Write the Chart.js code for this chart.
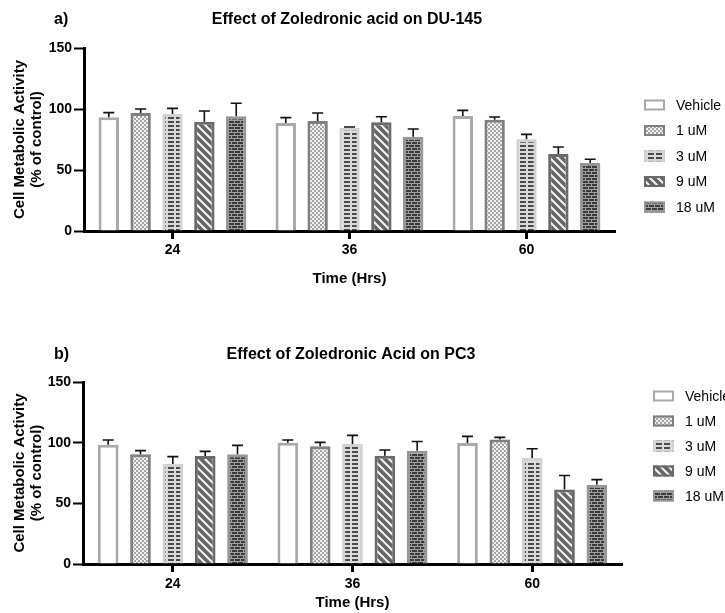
<!DOCTYPE html>
<html>
<head>
<meta charset="utf-8">
<script src="https://cdn.jsdelivr.net/npm/chart.js@4/dist/chart.umd.min.js"></script>
<style>
  html, body { margin: 0; padding: 0; background: #ffffff; }
  #wrap { position: relative; width: 725px; height: 613px; overflow: hidden; }
  #boxA { position: absolute; left: 0; top: 0; width: 725px; height: 300px; }
  #boxB { position: absolute; left: 0; top: 318px; width: 725px; height: 295px; }
</style>
</head>
<body>
<div id="wrap">
  <div id="boxA"><canvas id="chartA" width="725" height="300"></canvas></div>
  <div id="boxB"><canvas id="chartB" width="725" height="295"></canvas></div>
</div>
<script>
// ---------- DATA ----------
const categories = ['24', '36', '60'];
const seriesLabels = ['Vehicle', '1 uM', '3 uM', '9 uM', '18 uM'];
const yTicks = [0, 50, 100, 150];

// a) DU-145 : means (% of control)
const du145Vehicle = [93.2, 88.5, 94.3];
const du145Dose1 = [96.7, 90.2, 91.2];
const du145Dose3 = [95.9, 84.7, 75.2];
const du145Dose9 = [89.6, 89.1, 63.1];
const du145Dose18 = [94.0, 77.3, 55.7];
// a) DU-145 : upper error
const du145VehicleErr = [3.8, 4.4, 4.6];
const du145Dose1Err = [3.3, 6.5, 2.2];
const du145Dose3Err = [4.6, 0.5, 4.0];
const du145Dose9Err = [8.8, 4.6, 5.8];
const du145Dose18Err = [10.7, 6.3, 3.1];

// b) PC3 : means (% of control)
const pc3Vehicle = [98.3, 100.0, 99.8];
const pc3Dose1 = [90.4, 97.0, 102.7];
const pc3Dose3 = [82.4, 98.9, 87.4];
const pc3Dose9 = [89.0, 89.3, 61.5];
const pc3Dose18 = [90.4, 93.4, 65.4];
// b) PC3 : upper error
const pc3VehicleErr = [3.9, 2.2, 5.4];
const pc3Dose1Err = [3.0, 3.2, 1.7];
const pc3Dose3Err = [6.1, 7.1, 7.6];
const pc3Dose9Err = [3.8, 4.7, 11.5];
const pc3Dose18Err = [7.4, 7.6, 4.1];

const titleA = 'Effect of Zoledronic acid on DU-145';
const titleB = 'Effect of Zoledronic Acid on PC3';
const yTitle = ['Cell Metabolic Activity', '(% of control)'];
const xTitle = 'Time (Hrs)';

// ---------- STYLES ----------
const FONT = '"Liberation Sans", Arial, Helvetica, sans-serif';
Chart.defaults.font.family = FONT;
Chart.defaults.color = '#000';

function makePattern(w, h, draw) {
  const c = document.createElement('canvas');
  c.width = w; c.height = h;
  const g = c.getContext('2d');
  draw(g, w, h);
  return g.createPattern(c, 'repeat');
}
const patVehicle = '#ffffff';
const patDose1 = makePattern(4, 4, (g) => {
  g.fillStyle = '#f2f2f2'; g.fillRect(0, 0, 4, 4);
  g.fillStyle = '#a4a4a4'; g.fillRect(0, 0, 2, 2); g.fillRect(2, 2, 2, 2);
});
const patDose3 = makePattern(8, 4, (g) => {
  g.fillStyle = '#dadada'; g.fillRect(0, 0, 8, 4);
  g.fillStyle = '#4a4a4a'; g.fillRect(0, 1, 6, 2);
});
const patDose9 = makePattern(8, 8, (g) => {
  g.fillStyle = '#656565'; g.fillRect(0, 0, 8, 8);
  g.strokeStyle = '#f4f4f4'; g.lineWidth = 2;
  g.beginPath();
  g.moveTo(-2, -2); g.lineTo(10, 10);
  g.moveTo(-10, -2); g.lineTo(2, 10);
  g.moveTo(6, -2); g.lineTo(18, 10);
  g.stroke();
});
const patDose18 = makePattern(6, 6, (g) => {
  g.fillStyle = '#3a3a3a'; g.fillRect(0, 0, 6, 6);
  g.fillStyle = '#a0a0a0';
  g.fillRect(0, 0, 6, 1); g.fillRect(0, 3, 6, 1);
  g.fillRect(0, 0, 1, 3); g.fillRect(3, 3, 1, 3);
});
const fills = [patVehicle, patDose1, patDose3, patDose9, patDose18];
const borders = ['#a9a9a9', '#7f7f7f', '#d2d2d2', '#6a6a6a', '#979797'];

// ---------- PLUGINS ----------
const errorBars = {
  id: 'errorBars',
  afterDatasetsDraw(chart) {
    const ctx = chart.ctx;
    const ys = chart.scales.y;
    ctx.save();
    ctx.strokeStyle = '#111';
    ctx.lineWidth = 1.6;
    chart.data.datasets.forEach((ds, i) => {
      const meta = chart.getDatasetMeta(i);
      meta.data.forEach((el, j) => {
        const v = ds.data[j];
        const e = ds.errors[j];
        const yTop = ys.getPixelForValue(v);
        const yE = ys.getPixelForValue(v + e);
        ctx.beginPath();
        ctx.moveTo(el.x, yTop);
        ctx.lineTo(el.x, yE);
        ctx.moveTo(el.x - 5.5, yE);
        ctx.lineTo(el.x + 5.5, yE);
        ctx.stroke();
      });
    });
    ctx.restore();
  }
};

const headerAndLegend = {
  id: 'headerAndLegend',
  afterDraw(chart, args, o) {
    const ctx = chart.ctx;
    ctx.save();
    ctx.fillStyle = '#000';
    ctx.textBaseline = 'middle';
    ctx.font = 'bold 16px ' + FONT;
    ctx.textAlign = 'left';
    ctx.fillText(o.tag, o.tagX, o.titleY);
    ctx.textAlign = 'center';
    ctx.fillText(o.title, o.titleX, o.titleY);
    // legend
    ctx.font = '14px ' + FONT;
    ctx.textAlign = 'left';
    chart.data.datasets.forEach((ds, i) => {
      const cy = o.legY + i * o.legStep;
      const bx = o.legX, bw = 21, bh = 11;
      ctx.fillStyle = ds.backgroundColor;
      ctx.fillRect(bx, cy - bh / 2, bw, bh);
      ctx.strokeStyle = ds.borderColor;
      ctx.lineWidth = 2;
      ctx.strokeRect(bx + 1, cy - bh / 2 + 1, bw - 2, bh - 2);
      ctx.fillStyle = '#000';
      ctx.fillText(ds.label, o.legTextX, cy + 1);
    });
    ctx.restore();
  }
};

function buildDatasets(means, errs) {
  return seriesLabels.map((lab, i) => ({
    label: lab,
    data: means[i],
    errors: errs[i],
    backgroundColor: fills[i],
    borderColor: borders[i],
    borderWidth: 3,
    borderSkipped: 'bottom',
    categoryPercentage: 0.9,
    barPercentage: 0.64
  }));
}

function buildOptions(cfg) {
  return {
    responsive: false,
    animation: false,
    devicePixelRatio: 1,
    layout: { padding: { left: 0, top: cfg.top, right: cfg.right, bottom: 0 } },
    plugins: {
      legend: { display: false },
      tooltip: { enabled: false },
      title: { display: false },
      headerAndLegend: cfg.header
    },
    scales: {
      x: {
        type: 'category',
        offset: true,
        grid: { display: true, drawOnChartArea: false, drawTicks: true, tickLength: 8, tickWidth: 3, tickColor: '#000', offset: false },
        border: { display: true, color: '#000', width: 3 },
        ticks: { color: '#000', font: { size: 14, weight: 'bold' }, padding: cfg.xTickPad, maxRotation: 0 },
        title: { display: true, text: xTitle, color: '#000', font: { size: 15, weight: 'bold' }, padding: { top: 0, bottom: cfg.xTitlePad } },
        afterFit: (s) => { s.height = cfg.xHeight; }
      },
      y: {
        min: 0, max: 150,
        afterBuildTicks: (s) => { s.ticks = yTicks.map(v => ({ value: v })); },
        grid: { display: true, drawOnChartArea: false, drawTicks: true, tickLength: 10, tickWidth: 2, tickColor: '#000' },
        border: { display: true, color: '#000', width: 3 },
        ticks: { color: '#000', font: { size: 14, weight: 'bold' }, padding: 2 },
        title: { display: true, text: yTitle, color: '#000', font: { size: 15, weight: 'bold', lineHeight: 1.13 }, padding: { top: 11.5, bottom: 0 } },
        afterFit: (s) => { s.width = cfg.yWidth; }
      }
    }
  };
}

new Chart(document.getElementById('chartA'), {
  type: 'bar',
  data: {
    labels: categories,
    datasets: buildDatasets(
      [du145Vehicle, du145Dose1, du145Dose3, du145Dose9, du145Dose18],
      [du145VehicleErr, du145Dose1Err, du145Dose3Err, du145Dose9Err, du145Dose18Err])
  },
  options: buildOptions({
    top: 48, right: 110, yWidth: 84, xHeight: 69, xTickPad: 3, xTitlePad: 12,
    header: { tag: 'a)', tagX: 54, title: titleA, titleX: 347, titleY: 20,
              legX: 644, legTextX: 676, legY: 105, legStep: 25.5 }
  }),
  plugins: [errorBars, headerAndLegend]
});

new Chart(document.getElementById('chartB'), {
  type: 'bar',
  data: {
    labels: categories,
    datasets: buildDatasets(
      [pc3Vehicle, pc3Dose1, pc3Dose3, pc3Dose9, pc3Dose18],
      [pc3VehicleErr, pc3Dose1Err, pc3Dose3Err, pc3Dose9Err, pc3Dose18Err])
  },
  options: buildOptions({
    top: 64, right: 103, yWidth: 83, xHeight: 49, xTickPad: 4, xTitlePad: 1,
    header: { tag: 'b)', tagX: 54, title: titleB, titleX: 351, titleY: 37,
              legX: 653, legTextX: 685, legY: 78, legStep: 25 }
  }),
  plugins: [errorBars, headerAndLegend]
});
</script>
</body>
</html>
